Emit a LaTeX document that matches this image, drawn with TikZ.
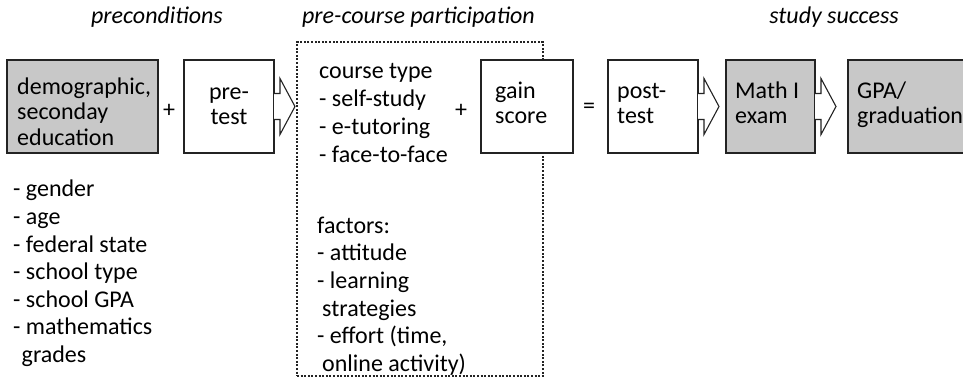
\documentclass[tikz,border=0pt]{standalone}
\usepackage{fontspec}
\setmainfont{Carlito}
\newcommand\dfs{\fontsize{24}{27.6}\selectfont}
\newcommand\cfs{\fontsize{24}{28}\selectfont}
\newcommand\bfsz{\fontsize{24}{25.5}\selectfont}
\definecolor{boxgray}{RGB}{200,200,200}
\definecolor{edge}{RGB}{35,35,35}
\tikzset{
 boxn/.style={draw=edge, line width=1.3pt, fill=white, minimum height=93pt, inner sep=0pt, outer sep=0pt},
 grayn/.style={boxn, fill=boxgray},
 harrow/.style={draw=edge, line width=1.1pt, fill=white, line join=miter},
 txt/.style={inner sep=0pt, align=left, anchor=north west},
 ttl/.style={inner sep=0pt, anchor=base, font=\dfs\itshape},
 sym/.style={inner sep=0pt, font=\dfs},
}
\begin{document}
\begin{tikzpicture}[x=1pt,y=-1pt]
\clip (0,0) rectangle (963,379);
% dashed participation frame
\node[draw=edge, line width=1.2pt, dash pattern=on 2pt off 1.6pt, minimum width=246pt, minimum height=334pt, inner sep=0pt] (part) at (420,209) {};
% titles
\node[ttl] (t1) at (157,24) {preconditions};
\node[ttl] (t2) at (418.5,24) {pre-course participation};
\node[ttl] (t3) at (834,24) {study success};
% boxes
\node[grayn, minimum width=151pt] (demo) at (82.5,106.5) {};
\node[boxn, minimum width=90pt] (pre) at (229,106.5) {};
\node[boxn, minimum width=92pt] (gain) at (527,106.5) {};
\node[boxn, minimum width=90pt] (post) at (653,106.5) {};
\node[grayn, minimum width=89pt] (math) at (770.5,106.5) {};
\node[grayn, minimum width=132pt] (gpa) at (914,106.5) {};
% box texts
\node[txt, font=\bfsz] (demot) at (17,76) {\strut demographic,\\\strut seconday\\\strut education};
\node[txt, anchor=north, align=center, font=\bfsz] (pret) at (229,81) {\strut pre-\\\strut test};
\node[txt, font=\bfsz] (gaint) at (495,80) {\strut gain\\\strut score};
\node[txt, font=\bfsz] (postt) at (617,80) {\strut post-\\\strut test};
\node[txt, font=\bfsz] (matht) at (735,80) {\strut Math I\\\strut exam};
\node[txt, font=\bfsz] (gpat) at (857,80) {\strut GPA/\\\strut graduation};
% operators
\node[sym] (plus1) at (169,111) {+};
\node[sym] (plus2) at (461,111) {+};
\node[sym] (eq) at (589,108) {=};
% lists
\node[txt, font=\cfs] (course) at (319,58.4) {\strut course type\\\strut - self-study\\\strut - e-tutoring\\\strut - face-to-face};
\node[txt, font=\dfs] (factors) at (317,213.7) {\strut factors:\\\strut - attitude\\\strut - learning\\\strut\hspace{5pt}strategies\\\strut - effort (time,\\\strut\hspace{5pt}online activity)};
\node[txt, font=\dfs] (precond) at (13,177.3) {\strut - gender\\\strut - age\\\strut - federal state\\\strut - school type\\\strut - school GPA\\\strut - mathematics\\\strut\hspace{8.5pt}grades};
% hollow block arrows
\foreach \b in {pre,post,math}{
 \draw[harrow] ([yshift=13pt]\b.east) -- ++(6pt,0) -- ++(0,15pt) -- ++(15pt,-28pt) -- ++(-15pt,-28pt) -- ++(0,15pt) -- ([yshift=-13pt]\b.east);
}
\end{tikzpicture}
\end{document}
